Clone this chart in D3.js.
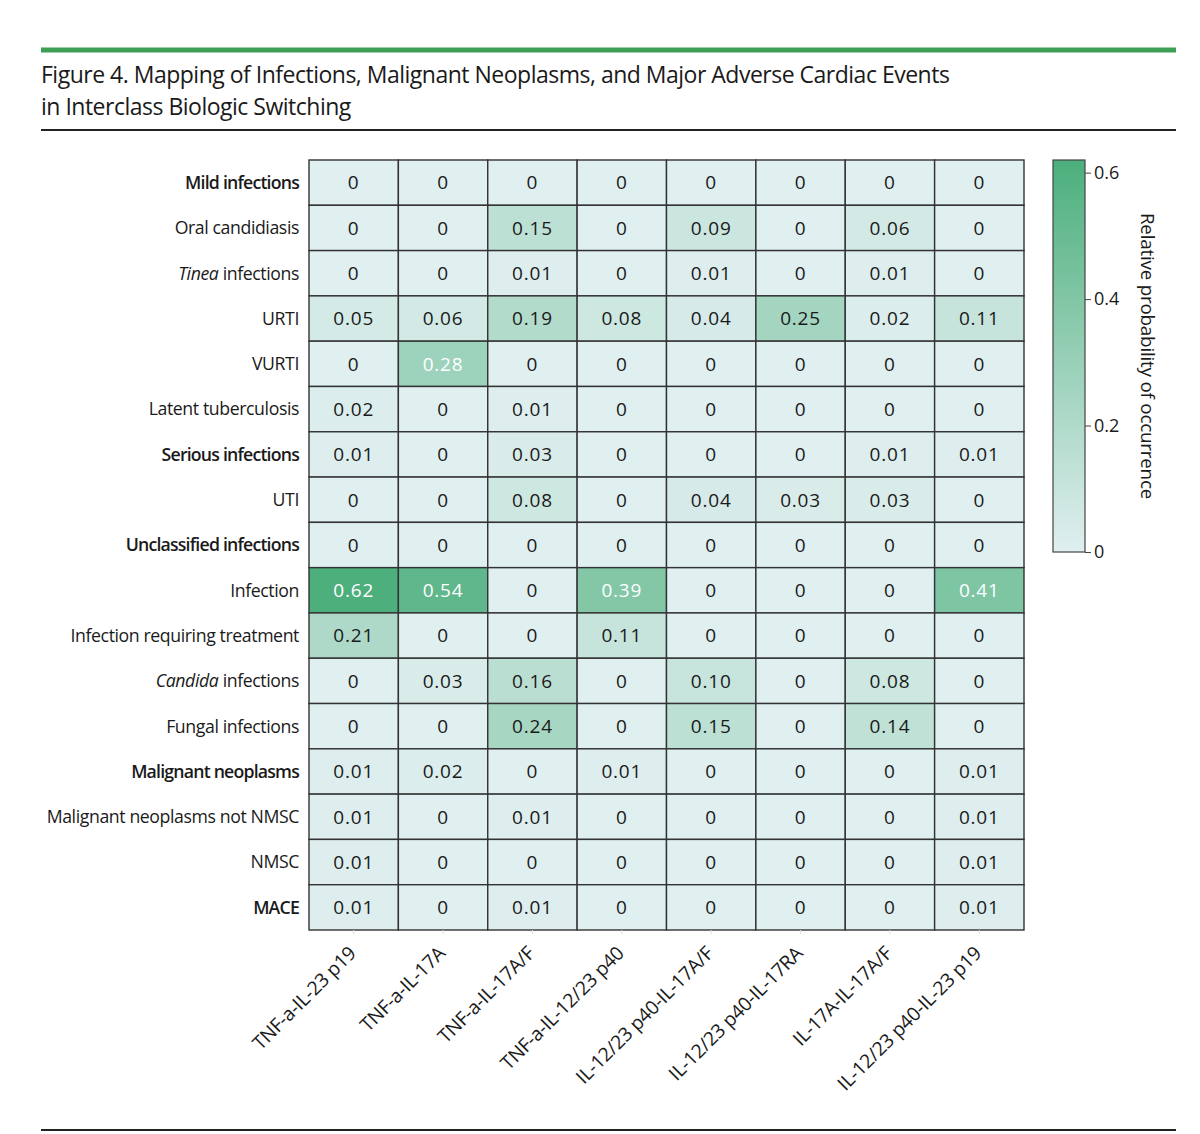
<!DOCTYPE html>
<html>
<head>
<meta charset="utf-8">
<script src="https://cdn.jsdelivr.net/npm/d3@7"></script>
<style>
  body { margin: 0; background: #fff; }
  svg text { fill: #1a1a1a; }
</style>
</head>
<body>
<svg id="chart" width="1200" height="1134"></svg>
<script>
// columns: switch pairs
const switches = [
    'TNF-a-IL-23 p19', 'TNF-a-IL-17A', 'TNF-a-IL-17A/F', 'TNF-a-IL-12/23 p40',
    'IL-12/23 p40-IL-17A/F', 'IL-12/23 p40-IL-17RA', 'IL-17A-IL-17A/F', 'IL-12/23 p40-IL-23 p19'
];

// rows: events (bold = group header, italic = genus prefix)
const events = [
    'Mild infections', 'Oral candidiasis', 'Tinea infections', 'URTI', 'VURTI',
    'Latent tuberculosis', 'Serious infections', 'UTI', 'Unclassified infections',
    'Infection', 'Infection requiring treatment', 'Candida infections', 'Fungal infections',
    'Malignant neoplasms', 'Malignant neoplasms not NMSC', 'NMSC', 'MACE'
];
const boldEvents = ['Mild infections', 'Serious infections', 'Unclassified infections', 'Malignant neoplasms', 'MACE'];
const italicPrefix = {'Tinea infections': 'Tinea', 'Candida infections': 'Candida'};

// relative probability, one array per row
const mild          = [0, 0, 0, 0, 0, 0, 0, 0];
const oralCand      = [0, 0, 0.15, 0, 0.09, 0, 0.06, 0];
const tinea         = [0, 0, 0.01, 0, 0.01, 0, 0.01, 0];
const urti          = [0.05, 0.06, 0.19, 0.08, 0.04, 0.25, 0.02, 0.11];
const vurti         = [0, 0.28, 0, 0, 0, 0, 0, 0];
const latentTb      = [0.02, 0, 0.01, 0, 0, 0, 0, 0];
const serious       = [0.01, 0, 0.03, 0, 0, 0, 0.01, 0.01];
const uti           = [0, 0, 0.08, 0, 0.04, 0.03, 0.03, 0];
const unclassified  = [0, 0, 0, 0, 0, 0, 0, 0];
const infection     = [0.62, 0.54, 0, 0.39, 0, 0, 0, 0.41];
const infTreatment  = [0.21, 0, 0, 0.11, 0, 0, 0, 0];
const candida       = [0, 0.03, 0.16, 0, 0.10, 0, 0.08, 0];
const fungal        = [0, 0, 0.24, 0, 0.15, 0, 0.14, 0];
const malignant     = [0.01, 0.02, 0, 0.01, 0, 0, 0, 0.01];
const malignantNot  = [0.01, 0, 0.01, 0, 0, 0, 0, 0.01];
const nmsc          = [0.01, 0, 0, 0, 0, 0, 0, 0.01];
const mace          = [0.01, 0, 0.01, 0, 0, 0, 0, 0.01];

const rows = [mild, oralCand, tinea, urti, vurti, latentTb, serious, uti, unclassified,
    infection, infTreatment, candida, fungal, malignant, malignantNot, nmsc, mace];

const colorTicks = [0, 0.2, 0.4, 0.6];
const colorMax = 0.62;

const cells = [];
rows.forEach((vals, i) => vals.forEach((v, j) => cells.push({row: events[i], col: switches[j], v})));

const svg = d3.select('#chart');
const font = '"Open Sans", "Noto Sans", sans-serif';

// header rules + title
svg.append('line').attr('x1', 41).attr('x2', 1176).attr('y1', 50).attr('y2', 50)
    .attr('stroke', '#3d9f55').attr('stroke-width', 5);
svg.append('line').attr('x1', 41).attr('x2', 1176).attr('y1', 130).attr('y2', 130)
    .attr('stroke', '#222').attr('stroke-width', 2);
svg.append('line').attr('x1', 41).attr('x2', 1176).attr('y1', 1130).attr('y2', 1130)
    .attr('stroke', '#222').attr('stroke-width', 2);

const title = svg.append('text').attr('font-family', font).attr('font-size', 23)
    .attr('font-weight', 500).attr('letter-spacing', -0.5);
title.append('tspan').attr('x', 41).attr('y', 83)
    .text('Figure 4. Mapping of Infections, Malignant Neoplasms, and Major Adverse Cardiac Events');
title.append('tspan').attr('x', 41).attr('y', 115)
    .text('in Interclass Biologic Switching');

// heatmap
const x = d3.scaleBand().domain(switches).range([309, 1024]);
const y = d3.scaleBand().domain(events).range([160, 930]);
const color = d3.scaleLinear().domain([0, colorMax]).range(['#e0eff0', '#4caf7c']);
const fmt = v => v === 0 ? '0' : v.toFixed(2);

const g = svg.append('g');
g.selectAll('rect.cell').data(cells).join('rect')
    .attr('class', 'cell')
    .attr('x', d => x(d.col)).attr('y', d => y(d.row))
    .attr('width', x.bandwidth()).attr('height', y.bandwidth())
    .attr('fill', d => color(d.v))
    .attr('stroke', '#333').attr('stroke-width', 1.4);

g.selectAll('text.val').data(cells).join('text')
    .attr('class', 'val')
    .attr('x', d => x(d.col) + x.bandwidth() / 2)
    .attr('y', d => y(d.row) + y.bandwidth() / 2)
    .attr('dy', '0.36em')
    .attr('text-anchor', 'middle')
    .attr('font-family', font).attr('font-size', 19)
    .attr('letter-spacing', 0.8)
    .style('fill', d => d.v > 0.26 ? '#fff' : '#1a1a1a')
    .text(d => fmt(d.v));

// row labels
const rowLab = svg.append('g').selectAll('text').data(events).join('text')
    .attr('x', 299)
    .attr('y', d => y(d) + y.bandwidth() / 2)
    .attr('dy', '0.36em')
    .attr('text-anchor', 'end')
    .attr('font-family', font).attr('font-size', 17.7)
    .attr('letter-spacing', d => boldEvents.includes(d) ? -0.8 : -0.4)
    .attr('font-weight', d => boldEvents.includes(d) ? 600 : 400);
rowLab.each(function(d){
    const t = d3.select(this);
    if(italicPrefix[d]){
        t.append('tspan').attr('font-style', 'italic').text(italicPrefix[d]);
        t.append('tspan').text(d.slice(italicPrefix[d].length));
    } else {
        t.text(d);
    }
});

// column axis, rotated labels
const xAxis = svg.append('g').attr('transform', 'translate(0,930)')
    .call(d3.axisBottom(x).tickSize(4).tickSizeOuter(0));
xAxis.select('.domain').remove();
xAxis.selectAll('.tick line').attr('stroke', '#ddd');
xAxis.selectAll('.tick text')
    .attr('font-family', font).attr('font-size', 19.3)
    .attr('letter-spacing', -0.3)
    .attr('text-anchor', 'end')
    .attr('x', -15).attr('y', 13).attr('dy', '0.35em')
    .attr('transform', 'rotate(-45)')
    .style('fill', '#1a1a1a');

// colour bar
const cb = {x: 1053, w: 32, top: 160, bottom: 552};
const cy = d3.scaleLinear().domain([0, colorMax]).range([cb.bottom, cb.top]);
const defs = svg.append('defs');
const grad = defs.append('linearGradient').attr('id', 'cbar')
    .attr('x1', 0).attr('x2', 0).attr('y1', 1).attr('y2', 0);
grad.selectAll('stop').data([0, colorMax]).join('stop')
    .attr('offset', d => d / colorMax)
    .attr('stop-color', d => color(d));
svg.append('rect').attr('x', cb.x).attr('y', cb.top)
    .attr('width', cb.w).attr('height', cb.bottom - cb.top)
    .attr('fill', 'url(#cbar)').attr('stroke', '#444').attr('stroke-width', 1.2);

const cAxis = svg.append('g').attr('transform', `translate(${cb.x + cb.w},0)`)
    .call(d3.axisRight(cy).tickValues(colorTicks).tickSize(6).tickSizeOuter(0)
        .tickFormat(d => d === 0 ? '0' : d3.format('.1f')(d)));
cAxis.select('.domain').remove();
cAxis.selectAll('.tick line').attr('stroke', '#444');
cAxis.selectAll('.tick text').attr('font-family', font).attr('font-size', 18)
    .style('fill', '#1a1a1a');

svg.append('text')
    .attr('transform', `translate(1141,${(cb.top + cb.bottom) / 2}) rotate(90)`)
    .attr('text-anchor', 'middle')
    .attr('font-family', font).attr('font-size', 18.8)
    .attr('letter-spacing', -0.2)
    .text('Relative probability of occurrence');
</script>
</body>
</html>
